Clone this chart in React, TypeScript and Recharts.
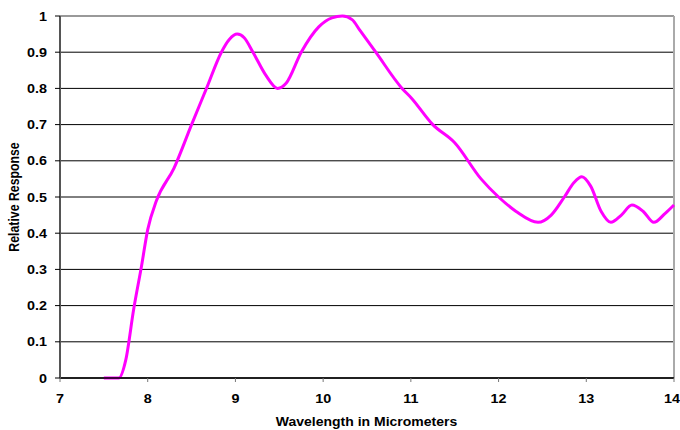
import React from 'react';
import { LineChart, Line, XAxis, YAxis, CartesianGrid, ReferenceLine } from 'recharts';

const wavelengths = [
  7.5, 7.67, 7.75, 7.84, 7.93, 8.0, 8.1, 8.3, 8.5, 8.67, 8.84, 8.93, 9.02, 9.1, 9.2, 9.35,
  9.48, 9.58, 9.75, 9.95, 10.1, 10.22, 10.33, 10.42, 10.6, 10.9, 11.0, 11.25, 11.5, 11.8,
  12.0, 12.2, 12.45, 12.6, 12.75, 12.86, 12.95, 13.05, 13.17, 13.28, 13.4, 13.52, 13.65,
  13.77, 13.9, 14.0,
];
const responses = [
  0, 0, 0.05, 0.19, 0.31, 0.41, 0.49, 0.58, 0.7, 0.8, 0.9, 0.935, 0.95, 0.94, 0.9, 0.835,
  0.8, 0.815, 0.9, 0.97, 0.995, 1.0, 0.99, 0.96, 0.9, 0.8, 0.775, 0.7, 0.65, 0.55,
  0.5, 0.46, 0.43, 0.45, 0.5, 0.54, 0.556, 0.53, 0.46, 0.43, 0.45, 0.478, 0.46,
  0.43, 0.455, 0.478,
];
const xTicks = [7, 8, 9, 10, 11, 12, 13, 14];
const yTicks = [0, 0.1, 0.2, 0.3, 0.4, 0.5, 0.6, 0.7, 0.8, 0.9, 1];
const xTitle = 'Wavelength in Micrometers';
const yTitle = 'Relative Response';

const data = wavelengths.map((w, i) => ({ w, r: responses[i] }));

const font = "'Liberation Sans', Arial, sans-serif";
const textStyle = { fontFamily: font, fontSize: 12.5, fontWeight: 700, fill: '#000' };
const SX = 1.15;

const XTick = (props: any) => {
  const { x, y, payload } = props;
  return (
    <g transform={`translate(${x},${y + 9})`}>
      <text x={0} y={0} textAnchor="middle" transform={`scale(${SX},1)`} style={textStyle}>
        {payload.value}
      </text>
    </g>
  );
};

const YTick = (props: any) => {
  const { x, y, payload } = props;
  return (
    <g transform={`translate(${x},${y + 4.5})`}>
      <text x={0} y={0} textAnchor="end" transform={`scale(${SX},1)`} style={textStyle}>
        {payload.value}
      </text>
    </g>
  );
};

const XTitle = (props: any) => {
  const vb = props.viewBox || { x: 60, y: 378, width: 614, height: 52 };
  const cx = vb.x + vb.width / 2 - 0.5;
  const by = vb.y + vb.height - 4;
  return (
    <g transform={`translate(${cx},${by})`}>
      <text x={0} y={0} textAnchor="middle" transform={`scale(1.12,1)`} style={textStyle}>
        {xTitle}
      </text>
    </g>
  );
};

const YTitle = (props: any) => {
  const vb = props.viewBox || { x: 0, y: 16, width: 60, height: 362 };
  const cy = vb.y + vb.height / 2;
  return (
    <g transform={`translate(19,${cy}) rotate(-90)`}>
      <text x={0} y={0} textAnchor="middle" style={{ ...textStyle, fontSize: 12.3 }} transform={`scale(1,${SX})`}>
        {yTitle}
      </text>
    </g>
  );
};

export default function App() {
  return (
    <div style={{ position: 'absolute', left: 0, top: 0, width: 680, height: 430, background: '#fff' }}>
      <LineChart width={680} height={430} data={data} margin={{ top: 16, right: 6, bottom: 0, left: 0 }}>
        <CartesianGrid horizontal vertical={false} stroke="#000" strokeWidth={1} />
        <XAxis
          dataKey="w"
          type="number"
          domain={[7, 14]}
          ticks={xTicks}
          height={52}
          tick={<XTick />}
          tickSize={4}
          tickMargin={12}
          axisLine={{ stroke: '#000', strokeWidth: 1.5 }}
          tickLine={{ stroke: '#777' }}
          label={{ content: (p: any) => <XTitle {...p} /> }}
        />
        <YAxis
          type="number"
          domain={[0, 1]}
          ticks={yTicks}
          width={60}
          tick={<YTick />}
          tickSize={5}
          tickMargin={8}
          axisLine={{ stroke: '#555', strokeWidth: 2 }}
          tickLine={{ stroke: '#000' }}
          label={{ content: (p: any) => <YTitle {...p} /> }}
        />
        <ReferenceLine y={1} stroke="#999" strokeWidth={2} />
        <ReferenceLine x={14} stroke="#aaa" strokeWidth={2} />
        <Line
          type="monotone"
          dataKey="r"
          stroke="#ff00ff"
          strokeWidth={3}
          dot={false}
          isAnimationActive={false}
        />
      </LineChart>
    </div>
  );
}
